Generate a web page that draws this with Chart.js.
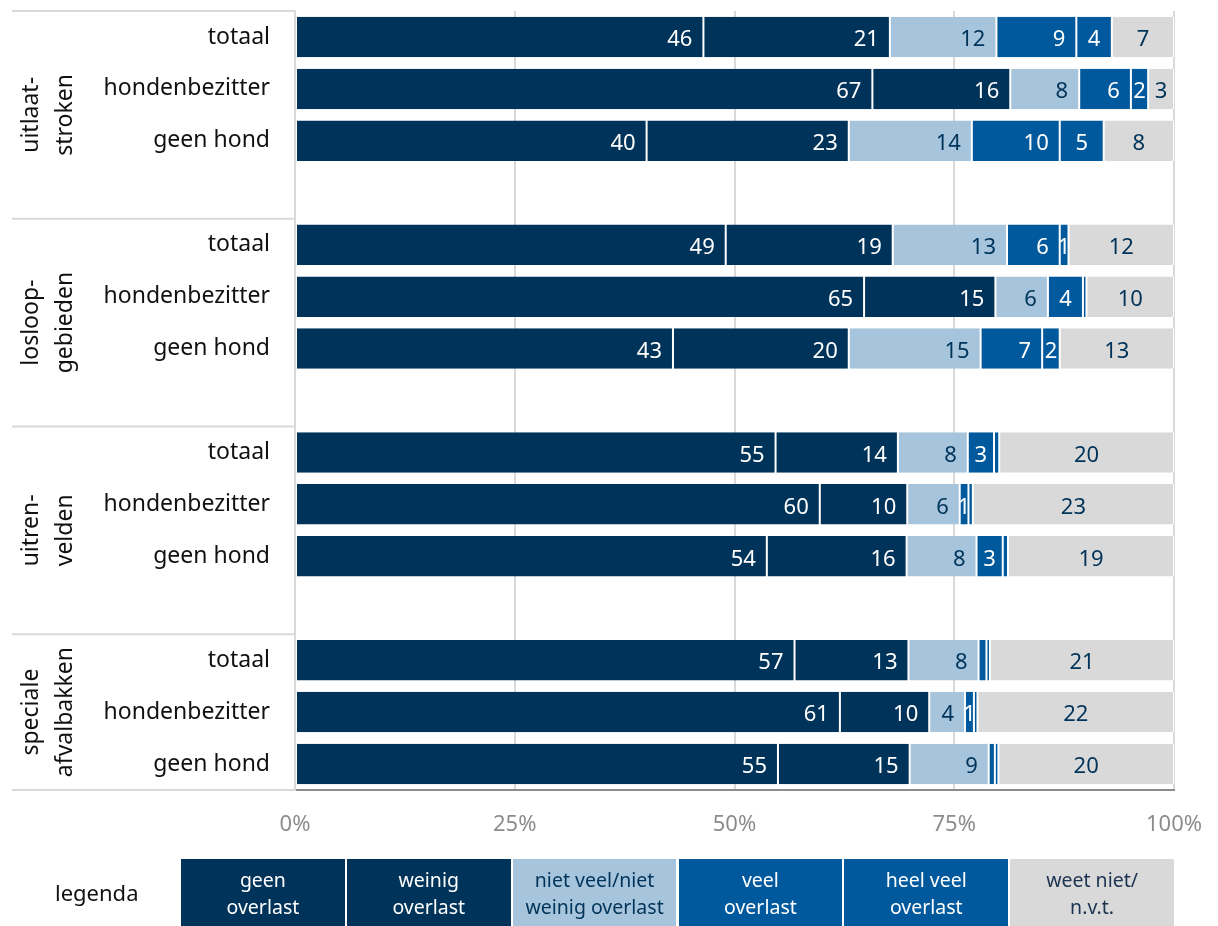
<!DOCTYPE html>
<html>
<head>
<meta charset="utf-8">
<script src="https://cdn.jsdelivr.net/npm/chart.js@4/dist/chart.umd.min.js"></script>
<style>
  html, body { margin: 0; padding: 0; background: #fff; }
  #wrap { position: relative; width: 1218px; height: 926px; }
  #legend { position: absolute; left: 0; top: 859px; width: 1218px; height: 67px;
            font-family: "Noto Sans", sans-serif; }
  #legend .title { position: absolute; left: 55px; top: 18px; font-size: 22px; color: #111; }
  #legend .box { position: absolute; top: 0; height: 67px; display: flex; align-items: center;
                 justify-content: center; text-align: center; font-size: 19.5px; line-height: 27px; }
</style>
</head>
<body>
<div id="wrap">
  <canvas id="chart" width="1218" height="926"></canvas>
  <div id="legend"><div class="title">legenda</div></div>
</div>
<script>
// groups on the left, rows inside each group
const groups = [['uitlaat-', 'stroken'], ['losloop-', 'gebieden'], ['uitren-', 'velden'], ['speciale', 'afvalbakken']];
const rowLabels = ['totaal', 'hondenbezitter', 'geen hond'];
const seriesNames = ['geen\noverlast', 'weinig\noverlast', 'niet veel/niet\nweinig overlast', 'veel\noverlast', 'heel veel\noverlast', 'weet niet/\nn.v.t.'];
const seriesColors = ['#003359', '#003359', '#a6c5dc', '#00599c', '#00599c', '#d9d9d9'];
const labelColors = ['#ffffff', '#ffffff', '#003359', '#ffffff', '#ffffff', '#003359'];
const legendText = ['#ffffff', '#ffffff', '#003359', '#ffffff', '#ffffff', '#1c3452'];

// percentages, 12 rows (4 groups x 3 rows)
const geenOverlast   = [46, 67, 40, 49, 65, 43, 55, 60, 54, 57, 61, 55];
const weinigOverlast = [21, 16, 23, 19, 15, 20, 14, 10, 16, 13, 10, 15];
const nietVeel       = [12, 8, 14, 13, 6, 15, 8, 6, 8, 8, 4, 9];
const veelOverlast   = [9, 6, 10, 6, 4, 7, 3, 1, 3, 0.9, 1, 0.7];
const heelVeel       = [4, 2, 5, 1, 0.4, 2, 0.6, 0.5, 0.6, 0.4, 0.4, 0.4];
const weetNiet       = [7, 3, 8, 12, 10, 13, 20, 23, 19, 21, 22, 20];
const xTicks = [0, 25, 50, 75, 100];

const allSeries = [geenOverlast, weinigOverlast, nietVeel, veelOverlast, heelVeel, weetNiet];

// build 15 slots: 3 rows + 1 blank per group (last group without blank)
const slotLabels = [];
const slotRow = [];
groups.forEach((g, gi) => {
  rowLabels.forEach((r, ri) => { slotLabels.push(r); slotRow.push(gi * 3 + ri); });
  if (gi < groups.length - 1) { slotLabels.push(''); slotRow.push(null); }
});

const rowSums = geenOverlast.map((_, i) => allSeries.reduce((s, a) => s + a[i], 0));

const datasets = allSeries.map((arr, si) => ({
  label: seriesNames[si],
  data: slotRow.map(r => r == null ? null : arr[r] / rowSums[r] * 100),
  raw: slotRow.map(r => r == null ? null : arr[r]),
  backgroundColor: seriesColors[si],
  borderColor: '#ffffff',
  borderWidth: { left: 1, right: 1, top: 0, bottom: 0 },
  borderSkipped: false,
  barPercentage: 0.78,
  categoryPercentage: 1
}));

const valueLabels = {
  id: 'valueLabels',
  afterDatasetsDraw(chart) {
    const ctx = chart.ctx;
    ctx.save();
    ctx.font = '22px "Noto Sans"';
    ctx.textBaseline = 'middle';
    chart.data.datasets.forEach((ds, di) => {
      chart.getDatasetMeta(di).data.forEach((bar, i) => {
        const v = ds.raw[i];
        if (v == null || v < 1) return;
        const t = String(Math.round(v));
        const w = ctx.measureText(t).width;
        const segW = bar.x - bar.base;
        ctx.fillStyle = labelColors[di];
        if (di < 4 && segW > w + 22) {
          ctx.textAlign = 'right';
          ctx.fillText(t, bar.x - 11, bar.y + 3);
        } else {
          ctx.textAlign = 'center';
          ctx.fillText(t, (bar.x + bar.base) / 2, bar.y + 3);
        }
      });
    });
    ctx.restore();
  }
};

const groupLabels = {
  id: 'groupLabels',
  afterDraw(chart) {
    const ctx = chart.ctx;
    const a = chart.chartArea;
    const slot = (a.bottom - a.top) / slotLabels.length;
    ctx.save();
    ctx.strokeStyle = '#d9d9d9';
    ctx.lineWidth = 2;
    const lines = [a.top, a.top + slot * 4, a.top + slot * 8, a.top + slot * 12, a.bottom];
    lines.forEach(y => {
      ctx.beginPath();
      ctx.moveTo(12, y);
      ctx.lineTo(a.left - 1, y);
      ctx.stroke();
    });
    ctx.fillStyle = '#111';
    ctx.font = '23px "Noto Sans"';
    ctx.textAlign = 'center';
    ctx.textBaseline = 'alphabetic';
    groups.forEach((g, gi) => {
      const n = gi < groups.length - 1 ? 4 : 3;
      const cy = a.top + slot * (gi * 4 + n / 2);
      [38, 72].forEach((x, li) => {
        ctx.save();
        ctx.translate(x, cy);
        ctx.rotate(-Math.PI / 2);
        ctx.fillText(g[li], 0, 0);
        ctx.restore();
      });
    });
    ctx.restore();
  }
};

new Chart(document.getElementById('chart'), {
  type: 'bar',
  data: { labels: slotLabels, datasets: datasets },
  options: {
    indexAxis: 'y',
    responsive: false,
    animation: false,
    layout: { padding: { top: 11, right: 44, left: 0, bottom: 0 } },
    plugins: { legend: { display: false }, tooltip: { enabled: false } },
    scales: {
      x: {
        stacked: true,
        min: 0,
        max: 100,
        afterBuildTicks: s => { s.ticks = xTicks.map(v => ({ value: v })); },
        afterFit: s => { s.height = 136; s.paddingLeft = 0; s.paddingRight = 0; },
        grid: { color: '#d9d9d9', lineWidth: 2, drawTicks: false },
        border: { color: '#8c8c8c', width: 2 },
        ticks: { padding: 22, color: '#8c8c8c', font: { family: 'Noto Sans', size: 22 },
                 callback: v => v + '%' }
      },
      y: {
        stacked: true,
        afterFit: s => { s.width = 295; s.paddingTop = 0; s.paddingBottom = 0; },
        grid: { display: false },
        border: { display: true, color: '#d9d9d9', width: 2 },
        ticks: { padding: 17, color: '#111', font: { family: 'Noto Sans', size: 23 } }
      }
    }
  },
  plugins: [valueLabels, groupLabels]
});

// legend boxes under the chart
const legend = document.getElementById('legend');
const boxLeft = 181, boxRight = 1174, gap = 2;
const boxW = (boxRight - boxLeft - gap * (seriesNames.length - 1)) / seriesNames.length;
seriesNames.forEach((name, i) => {
  const d = document.createElement('div');
  d.className = 'box';
  d.style.left = (boxLeft + i * (boxW + gap)) + 'px';
  d.style.width = boxW + 'px';
  d.style.background = seriesColors[i];
  d.style.color = legendText[i];
  d.innerHTML = name.split('\n').join('<br>');
  legend.appendChild(d);
});
</script>
</body>
</html>
